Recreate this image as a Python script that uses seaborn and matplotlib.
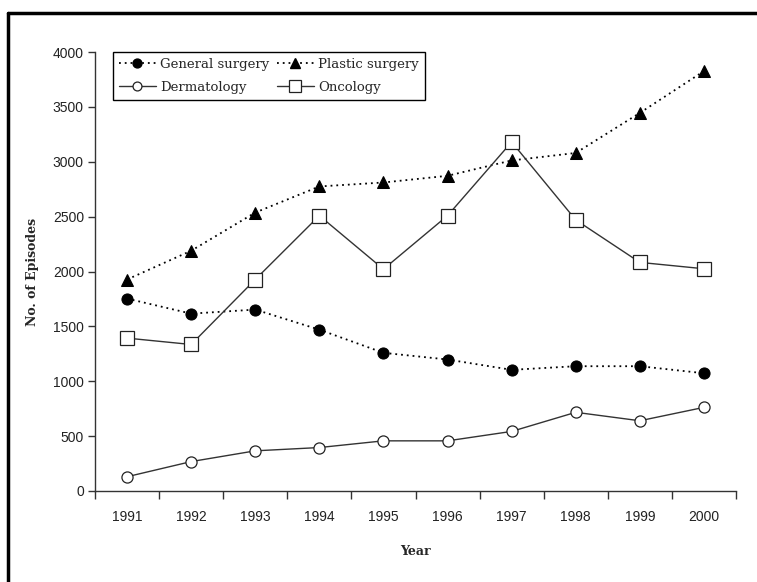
import matplotlib
matplotlib.use("Agg")
import matplotlib.pyplot as plt
import seaborn as sns
import numpy as np
import pandas as pd
from matplotlib.lines import Line2D

years = ["1991", "1992", "1993", "1994", "1995", "1996", "1997", "1998", "1999", "2000"]
general_surgery = [1753, 1616, 1653, 1470, 1259, 1198, 1104, 1137, 1137, 1073]
plastic_surgery = [1927, 2189, 2537, 2775, 2811, 2872, 3012, 3080, 3445, 3826]
dermatology = [130, 268, 366, 396, 457, 457, 543, 717, 640, 762]
oncology = [1393, 1335, 1927, 2509, 2021, 2509, 3180, 2470, 2083, 2025]
y_ticks = [0, 500, 1000, 1500, 2000, 2500, 3000, 3500, 4000]

sns.set_style("white")
serif = ["DejaVu Serif"]
sans = ["Liberation Sans", "DejaVu Sans"]

fig = plt.figure(figsize=(7.57, 5.82), dpi=100)
ax = fig.add_axes([95/757, 91/582, 641/757, 439/582])

x = np.arange(len(years))
df = pd.DataFrame({"x": x, "General surgery": general_surgery, "Plastic surgery": plastic_surgery,
                   "Dermatology": dermatology, "Oncology": oncology})

specs = {
    "General surgery": dict(color="black", linestyle=(0, (1, 2.2)), linewidth=1.3, marker="o",
                            markersize=8, markerfacecolor="black", markeredgecolor="black"),
    "Plastic surgery": dict(color="black", linestyle=(0, (1, 2.2)), linewidth=1.3, marker="^",
                            markersize=9, markerfacecolor="black", markeredgecolor="black"),
    "Dermatology": dict(color="#333333", linestyle="-", linewidth=1.0, marker="o",
                        markersize=8, markerfacecolor="white", markeredgecolor="#222222", markeredgewidth=0.9),
    "Oncology": dict(color="#333333", linestyle="-", linewidth=1.0, marker="s",
                     markersize=10, markerfacecolor="white", markeredgecolor="#222222", markeredgewidth=0.9),
}
for name, kw in specs.items():
    sns.lineplot(data=df, x="x", y=name, ax=ax, legend=False, **kw)

ax.set_xlim(-0.5, 9.5)
ax.set_ylim(0, 4000)
ax.set_yticks(y_ticks)
ax.set_yticklabels([str(v) for v in y_ticks], family=sans, fontsize=10, color="#222222")
ax.set_xticks(x)
ax.set_xticklabels(years, family=sans, fontsize=10, color="#222222")
ax.set_xticks(np.arange(-0.5, 10, 1), minor=True)
ax.tick_params(axis="x", which="major", length=0, pad=14)
ax.tick_params(axis="x", which="minor", length=6, width=1, color="#333333", direction="out", bottom=True)
ax.tick_params(axis="y", which="major", length=5, width=1, color="#333333", direction="out", left=True, pad=3)

for s in ["top", "right"]:
    ax.spines[s].set_visible(False)
for s in ["left", "bottom"]:
    ax.spines[s].set_color("#333333")
    ax.spines[s].set_linewidth(1.0)

ax.set_xlabel("Year", family=serif, fontweight="bold", fontsize=9, labelpad=15)
ax.set_ylabel("No. of Episodes", family=serif, fontweight="bold", fontsize=9, labelpad=10)

order = ["General surgery", "Dermatology", "Plastic surgery", "Oncology"]
handles = []
for name in order:
    kw = dict(specs[name])
    kw["markersize"] = kw["markersize"] * 0.8
    handles.append(Line2D([], [], **kw))
leg = ax.legend(handles, order, ncol=2, loc="upper left",
                bbox_to_anchor=(18/641, 1.0), borderaxespad=0, frameon=True, fancybox=False,
                edgecolor="black", prop={"family": serif, "size": 9.5},
                handlelength=2.8, columnspacing=0.6, handletextpad=0.3,
                borderpad=0.45, labelspacing=0.75)
leg.get_frame().set_linewidth(1.0)
leg.get_frame().set_facecolor("white")
leg.get_frame().set_alpha(1)

# outer chart border (partially cropped in the original)
fig.add_artist(Line2D([8/757, 8/757], [0, 1 - 13/582], transform=fig.transFigure, color="black", linewidth=2.5))
fig.add_artist(Line2D([8/757, 1], [1 - 13/582, 1 - 13/582], transform=fig.transFigure, color="black", linewidth=2.5))

fig.savefig("out.png", dpi=100)
